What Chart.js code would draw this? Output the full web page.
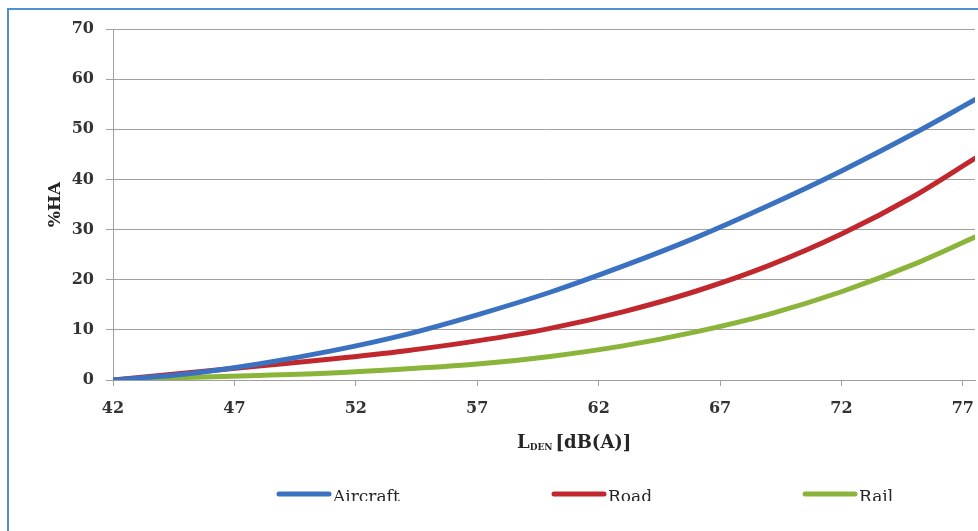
<!DOCTYPE html>
<html>
<head>
<meta charset="utf-8">
<script src="https://cdn.jsdelivr.net/npm/chart.js@4.4.0/dist/chart.umd.min.js"></script>
<style>
  body { margin: 0; background: #fff; }
  #wrap { position: relative; width: 978px; height: 531px; }
</style>
</head>
<body>
<div id="wrap"><canvas id="graph" width="978" height="531"></canvas></div>
<script>
var levels = [42, 45, 48, 51, 54, 57, 60, 63, 66, 69, 72, 75, 77.5];
// %HA for each source
var aircraft = [0, 1.2, 3.2, 5.8, 9.0, 13.0, 17.5, 22.7, 28.4, 34.8, 41.7, 49.2, 55.9];
var road     = [0, 1.4, 2.8, 4.2, 5.8, 7.8, 10.3, 13.6, 17.7, 22.8, 29.1, 36.7, 44.2];
var rail     = [0, 0.5, 0.9, 1.4, 2.2, 3.2, 4.7, 6.8, 9.6, 13.1, 17.6, 23.1, 28.5];
var seriesNames = ['Aircraft', 'Road', 'Rail'];
var xTicks = [42, 47, 52, 57, 62, 67, 72, 77];

var colors = ['#3a72c1', '#c0282e', '#8bb43a'];
var gridGray = '#a0a0a0';
var serif = "'DejaVu Serif', 'Liberation Serif', serif";

function toPoints(vals) {
  var pts = [];
  for (var i = 0; i < levels.length; i++) pts.push({x: levels[i], y: vals[i]});
  return pts;
}

// frame, x title with subscript, and spread-out legend
var extras = {
  id: 'extras',
  beforeDraw: function(chart) {
    var ctx = chart.ctx;
    ctx.save();
    ctx.fillStyle = '#4f8fd2';
    ctx.fillRect(7, 8, 2, chart.height);
    ctx.fillRect(7, 8, chart.width, 2);
    ctx.restore();
  },
  afterDraw: function(chart) {
    var ctx = chart.ctx;
    ctx.save();
    ctx.fillStyle = '#262626';
    ctx.textBaseline = 'alphabetic';
    // L_DEN [dB(A)]
    var x = 517, base = 448;
    ctx.font = 'bold 18px ' + serif;
    ctx.fillText('L', x, base);
    x += ctx.measureText('L').width;
    ctx.font = 'bold 9px ' + serif;
    ctx.fillText('DEN', x, base + 2);
    x += ctx.measureText('DEN').width + 3;
    ctx.font = 'bold 18px ' + serif;
    ctx.fillText('[dB(A)]', x, base);

    // legend (the bottom is cut off like in the original)
    ctx.beginPath();
    ctx.rect(0, 0, chart.width, 501);
    ctx.clip();
    var legX = [277, 552, 803];
    ctx.font = '17px ' + serif;
    chart.data.datasets.forEach(function(ds, i) {
      ctx.strokeStyle = ds.borderColor;
      ctx.lineWidth = 5;
      ctx.lineCap = 'round';
      ctx.beginPath();
      ctx.moveTo(legX[i] + 2, 494);
      ctx.lineTo(legX[i] + 52, 494);
      ctx.stroke();
      ctx.fillStyle = '#262626';
      ctx.fillText(ds.label, legX[i] + 56, 502);
    });
    ctx.restore();
  }
};

var config = {
  type: 'line',
  data: {
    datasets: [
      {label: seriesNames[0], data: toPoints(aircraft), borderColor: colors[0]},
      {label: seriesNames[1], data: toPoints(road), borderColor: colors[1]},
      {label: seriesNames[2], data: toPoints(rail), borderColor: colors[2]}
    ].map(function(d) {
      d.borderWidth = 5;
      d.pointRadius = 0;
      d.fill = false;
      d.cubicInterpolationMode = 'monotone';
      d.borderCapStyle = 'round';
      return d;
    })
  },
  options: {
    responsive: false,
    animation: false,
    layout: {padding: {left: 0, top: 29, right: 3, bottom: 106}},
    plugins: {legend: {display: false}, tooltip: {enabled: false}},
    scales: {
      x: {
        type: 'linear',
        min: 42,
        max: 77.5,
        afterBuildTicks: function(scale) {
          scale.ticks = xTicks.map(function(v) { return {value: v}; });
        },
        afterFit: function(scale) {
          scale.height = 45;
          // last tick is not at the edge, so no room is needed for its label
          scale.paddingRight = 0;
          scale.paddingLeft = 0;
        },
        ticks: {
          autoSkip: false, maxRotation: 0, padding: 13,
          color: '#333333',
          font: {family: serif, size: 16, weight: 'bold'}
        },
        grid: {drawOnChartArea: false, drawTicks: true, tickLength: 6, color: gridGray},
        border: {display: true, color: gridGray}
      },
      y: {
        min: 0,
        max: 70,
        afterFit: function(scale) { scale.width = 113; },
        ticks: {
          stepSize: 10, padding: 12,
          color: '#333333',
          font: {family: serif, size: 16, weight: 'bold'}
        },
        grid: {color: gridGray, lineWidth: 1, tickLength: 7},
        border: {display: true, color: gridGray},
        title: {
          display: true, text: '%HA', color: '#262626',
          font: {family: serif, size: 17, weight: 'bold'},
          padding: {top: 45, bottom: 0}
        }
      }
    }
  },
  plugins: [extras]
};

var chart1 = new Chart(document.getElementById('graph'), config);
</script>
</body>
</html>
